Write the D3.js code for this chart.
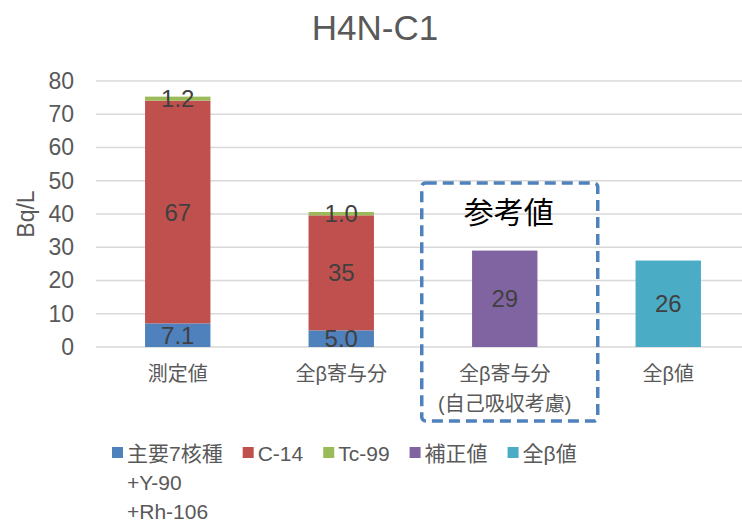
<!DOCTYPE html>
<html lang="ja">
<head>
<meta charset="UTF-8" />
<title>H4N-C1</title>
<script src="https://d3js.org/d3.v7.min.js"></script>
<style>
  body { margin: 0; background: #fff; }
  svg text { font-family: "Liberation Sans", Arial, "Noto Sans CJK JP", sans-serif; }
</style>
</head>
<body>
<div id="chart"></div>
<script>
// data
const categories = ["測定値", "全β寄与分", "全β寄与分\n(自己吸収考慮)", "全β値"];
const main7 = [7.1, 5.0, 0, 0];
const c14 = [67, 34.6, 0, 0];
const tc99 = [1.2, 1.0, 0, 0];
const corrected = [0, 0, 29, 0];
const totalBeta = [0, 0, 0, 26];
const yTicks = [0, 10, 20, 30, 40, 50, 60, 70, 80];

const seriesNames = ["主要7核種\n+Y-90\n+Rh-106", "C-14", "Tc-99", "補正値", "全β値"];
const seriesValues = [main7, c14, tc99, corrected, totalBeta];
const colors = ["#4F81BD", "#C0504D", "#9BBB59", "#8064A2", "#4BACC6"];

const W = 742, H = 524;
const margin = { top: 81, right: -8, bottom: 177, left: 96 };
const plotH = H - margin.top - margin.bottom;

const svg = d3.select("#chart").append("svg")
  .attr("width", W).attr("height", H);

// title
svg.append("text")
  .attr("x", 375).attr("y", 40)
  .attr("text-anchor", "middle")
  .style("font-size", "35px").style("fill", "#595959")
  .text("H4N-C1");

const x = d3.scaleBand()
  .domain(d3.range(categories.length))
  .range([margin.left, W - margin.right])
  .paddingInner(0.6).paddingOuter(0.3);

const y = d3.scaleLinear().domain([0, 80]).range([margin.top + plotH, margin.top]);

// gridlines
svg.append("g").selectAll("line").data(yTicks).join("line")
  .attr("x1", margin.left).attr("x2", W)
  .attr("y1", d => y(d)).attr("y2", d => y(d))
  .attr("stroke", "#d9d9d9").attr("stroke-width", 1.5);

// y axis (no domain line)
const yAxis = svg.append("g")
  .attr("transform", `translate(${margin.left - 10},0)`)
  .call(d3.axisLeft(y).tickValues(yTicks).tickSize(0).tickPadding(12));
yAxis.select(".domain").remove();
yAxis.selectAll("text")
  .style("font-size", "23px").style("fill", "#595959")
  .attr("font-family", null);

svg.append("text")
  .attr("transform", `translate(34,214) rotate(-90)`)
  .attr("text-anchor", "middle")
  .style("font-size", "23px").style("fill", "#595959")
  .text("Bq/L");

// stacked series
const rows = categories.map((c, i) => {
  const r = { idx: i };
  seriesValues.forEach((s, k) => r["s" + k] = s[i]);
  return r;
});
const stack = d3.stack().keys(seriesNames.map((_, k) => "s" + k));
const stacked = stack(rows);
const fmt = d3.format(".2r");

stacked.forEach((layer, k) => {
  const g = svg.append("g");
  g.selectAll("rect").data(layer.filter(d => d[1] - d[0] > 0)).join("rect")
    .attr("x", d => x(d.data.idx))
    .attr("width", x.bandwidth())
    .attr("y", d => y(d[1]))
    .attr("height", d => y(d[0]) - y(d[1]))
    .attr("fill", colors[k]);
});
stacked.forEach((layer, k) => {
  svg.append("g").selectAll("text").data(layer.filter(d => d[1] - d[0] > 0)).join("text")
    .attr("x", d => x(d.data.idx) + x.bandwidth() / 2)
    .attr("y", d => (y(d[0]) + y(d[1])) / 2)
    .attr("dy", "0.36em")
    .attr("text-anchor", "middle")
    .style("font-size", "24px").style("fill", "#404040")
    .text(d => fmt(d[1] - d[0]));
});

// category labels
const xl = svg.append("g").selectAll("text").data(categories).join("text")
  .attr("text-anchor", "middle")
  .attr("x", (d, i) => x(i) + x.bandwidth() / 2)
  .attr("y", y(0) + 34)
  .style("font-size", "20px").style("fill", "#595959");
xl.each(function (d) {
  d.split("\n").forEach((line, j) => {
    d3.select(this).append("tspan")
      .attr("x", d3.select(this).attr("x"))
      .attr("dy", j === 0 ? 0 : 30)
      .text(line);
  });
});

// reference-value dashed box
const cx3 = x(2) + x.bandwidth() / 2 + 5;
svg.append("rect")
  .attr("x", cx3 - 88).attr("y", y(49.3))
  .attr("width", 176).attr("height", y(0) + 74 - y(49.3))
  .attr("rx", 4)
  .attr("fill", "none").attr("stroke", "#4F81BD")
  .attr("stroke-width", 3.5).attr("stroke-dasharray", "11,6");
svg.append("text")
  .attr("x", cx3 - 1).attr("y", y(49.3) + 40)
  .attr("text-anchor", "middle")
  .style("font-size", "30px").style("fill", "#000")
  .text("参考値");

// legend
const legend = svg.append("g");
let lx = 112;
seriesNames.forEach((name, k) => {
  const item = legend.append("g").attr("transform", `translate(${lx},453)`);
  item.append("rect").attr("x", 0).attr("y", -6).attr("width", 11).attr("height", 11)
    .attr("fill", colors[k]);
  const t = item.append("text").attr("x", 15).attr("y", 0)
    .style("font-size", "21px").style("fill", "#595959");
  name.split("\n").forEach((line, j) => {
    t.append("tspan").attr("x", 15).attr("dy", j === 0 ? "0.36em" : 29).text(line);
  });
  const w = d3.max(t.selectAll("tspan").nodes(), n => n.getComputedTextLength());
  lx += 15 + w + 20;
});
</script>
</body>
</html>
